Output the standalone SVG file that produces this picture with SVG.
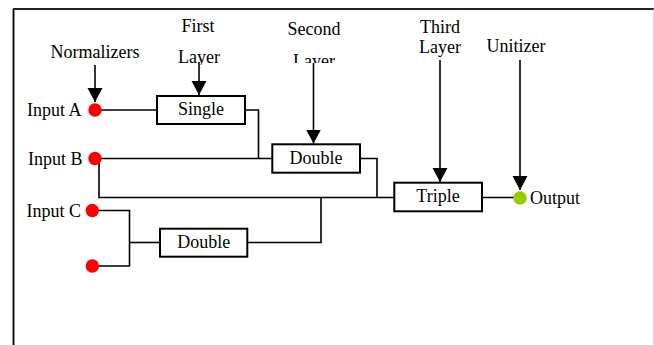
<svg xmlns="http://www.w3.org/2000/svg" width="654" height="345" viewBox="0 0 654 345">
<style>
text{font-family:"Liberation Serif","Times New Roman",serif;font-size:18px;fill:#000}
.c{text-anchor:middle}
.box{fill:#fff;stroke:#000;stroke-width:2}
.wire{fill:none;stroke:#000;stroke-width:1.6}
.arr{fill:none;stroke:#000;stroke-width:1.6;marker-end:url(#ah)}
.in{fill:#ff0000}
.out{fill:#99cc00}
</style>
<defs>
<marker id="ah" markerUnits="userSpaceOnUse" markerWidth="16" markerHeight="16" refX="14" refY="7.5" orient="auto" viewBox="0 0 16 16">
<path d="M0,0 L14,7.5 L0,15 Z" fill="#000"/>
</marker>
<clipPath id="clip1"><rect x="150" y="40" width="100" height="25"/></clipPath>
<clipPath id="clip2"><rect x="270" y="40" width="100" height="23"/></clipPath>
</defs>
<rect width="654" height="345" fill="#fff"/>
<g id="frame">
<line x1="13.5" y1="9" x2="13.5" y2="345" stroke="#000" stroke-width="1.8"/>
<line x1="13" y1="9" x2="654" y2="9" stroke="#222" stroke-width="2"/>
<line x1="653.3" y1="9" x2="653.3" y2="345" stroke="#ccc" stroke-width="1"/>
</g>
<g id="connectors">
<line class="arr" x1="95" y1="65" x2="95" y2="102"/>
<line class="arr" x1="199" y1="62" x2="199" y2="95"/>
<line class="arr" x1="313.5" y1="63" x2="313.5" y2="143.5"/>
<line class="arr" x1="440" y1="60" x2="440" y2="182"/>
<line class="arr" x1="520" y1="60" x2="520" y2="190"/>
<path class="wire" d="M101,110 H157"/>
<path class="wire" d="M245,110 H258.5 V158.5"/>
<path class="wire" d="M95,158.5 H272"/>
<path class="wire" d="M99,158.5 V197.5 H394"/>
<path class="wire" d="M360,158.5 H377 V197.5"/>
<path class="wire" d="M92,210.5 H129.5 V266 H92"/>
<path class="wire" d="M129.5,242.5 H160"/>
<path class="wire" d="M247,242.5 H321 V197.5"/>
<path class="wire" d="M482,197.5 H516"/>
</g>
<g id="labels">
<text class="c" x="95" y="58">Normalizers</text>
<text class="c" x="198" y="32">First</text>
<text class="c" x="199" y="63" clip-path="url(#clip1)">Layer</text>
<text class="c" x="314" y="35">Second</text>
<text class="c" x="314" y="67" clip-path="url(#clip2)">Layer</text>
<text class="c" x="440" y="33">Third</text>
<text class="c" x="440" y="53">Layer</text>
<text class="c" x="516" y="52">Unitizer</text>
</g>
<g id="inputA">
<circle class="in" cx="95" cy="110" r="6.7"/>
<text x="27" y="116">Input A</text>
</g>
<g id="inputB">
<circle class="in" cx="95" cy="158.5" r="6.7"/>
<text x="28" y="165">Input B</text>
</g>
<g id="inputC">
<circle class="in" cx="92.3" cy="210.5" r="6.7"/>
<text x="26.5" y="217">Input C</text>
</g>
<g id="inputD">
<circle class="in" cx="92.3" cy="266" r="6.7"/>
</g>
<g id="single">
<rect class="box" x="157" y="96" width="88" height="28"/>
<text class="c" x="201" y="115">Single</text>
</g>
<g id="double1">
<rect class="box" x="272.3" y="144.3" width="87.7" height="28.4"/>
<text class="c" x="316" y="163.5">Double</text>
</g>
<g id="double2">
<rect class="box" x="160" y="228.7" width="87.3" height="28"/>
<text class="c" x="203.7" y="247.5">Double</text>
</g>
<g id="triple">
<rect class="box" x="394.3" y="182.7" width="87.7" height="28.6"/>
<text class="c" x="438" y="201.5">Triple</text>
</g>
<g id="output">
<circle class="out" cx="520" cy="198" r="6.7"/>
<text x="530" y="204">Output</text>
</g>
</svg>
